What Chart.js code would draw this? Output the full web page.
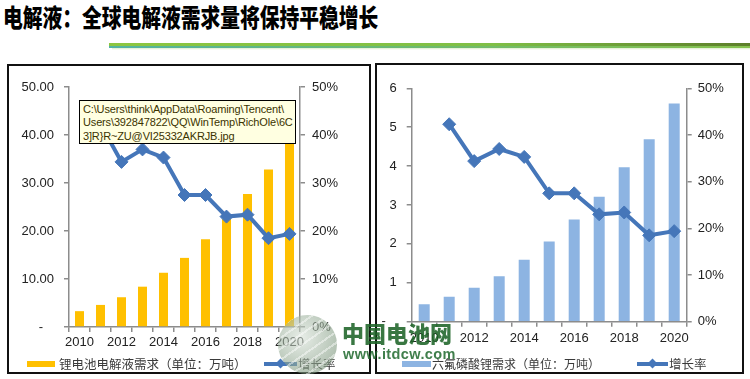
<!DOCTYPE html>
<html><head><meta charset="utf-8">
<script src="https://cdn.jsdelivr.net/npm/chart.js@4.4.1/dist/chart.umd.min.js"></script>
<style>
html,body{margin:0;padding:0;background:#fff;width:750px;height:379px;overflow:hidden;position:relative;font-family:"Liberation Sans",Arial,sans-serif;}
.abs{position:absolute;}
#title{left:3px;top:1px;font-family:"Noto Sans CJK SC";font-weight:900;font-size:25px;line-height:30px;transform:scaleX(0.79);transform-origin:0 0;white-space:nowrap;color:#000;}
#bar1{left:109px;top:43px;width:641px;height:2.5px;background:linear-gradient(to right,#8cc640,#7fbf45 60%,#5d7e2a);}
#bar2{left:109px;top:45.5px;width:641px;height:2.5px;background:linear-gradient(to right,#52b3a2,#6dba6e 50%,#86c24e);}
#bar3{left:112px;top:48px;width:638px;height:2px;background:linear-gradient(to bottom,rgba(200,225,170,0.6),rgba(255,255,255,0));}
.panel{border:2px solid #111;box-sizing:border-box;}
canvas{position:absolute;}
.leg{font-family:"Noto Sans CJK SC";font-size:12.5px;color:#3a3a3a;white-space:nowrap;line-height:14px;}
.sw{height:6px;}
.ln{height:4px;}
.dia{width:7px;height:7px;transform:rotate(45deg);}
#tip{left:79px;top:100px;width:217px;height:44px;box-sizing:border-box;background:#ffffe1;border:1px solid #000;font-family:"Liberation Sans";font-size:11px;line-height:13.3px;color:#3b3300;padding:2px 0 0 3px;white-space:nowrap;letter-spacing:-0.15px;}
#globe{left:278px;top:315px;width:59px;height:59px;border-radius:50%;
 background:repeating-linear-gradient(-35deg,rgba(255,255,255,0) 0 7px,rgba(255,255,255,0.45) 7px 9px),radial-gradient(circle at 40% 38%,rgba(215,225,215,0.6),rgba(130,155,130,0.6) 70%,rgba(100,125,100,0.65));}
#wm1{left:342px;top:317px;font-family:"Noto Sans CJK SC";font-weight:900;font-size:22px;line-height:30px;color:rgba(30,100,40,0.88);letter-spacing:0px;white-space:nowrap;}
#wm2{left:343px;top:345px;font-family:"Liberation Sans";font-weight:bold;font-size:14.5px;line-height:18px;color:rgba(30,105,45,0.85);letter-spacing:0.4px;white-space:nowrap;}
</style>
</head><body>
<div id="title" class="abs">电解液：全球电解液需求量将保持平稳增长</div>
<div id="bar1" class="abs"></div><div id="bar2" class="abs"></div><div id="bar3" class="abs"></div>

<div class="abs panel" style="left:7px;top:64px;width:364px;height:310px;"></div>
<div class="abs panel" style="left:375px;top:63px;width:369px;height:311px;"></div>

<canvas id="c1" width="359" height="306" style="left:9px;top:66px;"></canvas>
<canvas id="c2" width="365" height="307" style="left:377px;top:65px;"></canvas>

<div class="abs sw" style="left:27px;top:361px;width:28px;background:#FFC000;"></div>
<div class="abs leg" style="left:59px;top:357px;">锂电池电解液需求（单位：万吨）</div>
<div class="abs ln" style="left:264px;top:362px;width:33px;background:#4576b9;"></div>
<div class="abs dia" style="left:277px;top:360px;background:#4576b9;"></div>
<div class="abs leg" style="left:298px;top:357px;">增长率</div>

<div class="abs sw" style="left:402px;top:361px;width:29px;background:#8db4e2;"></div>
<div class="abs leg" style="left:432px;top:357px;font-size:12px;">六氟磷酸锂需求（单位：万吨）</div>
<div class="abs ln" style="left:637px;top:362px;width:31px;background:#4576b9;"></div>
<div class="abs dia" style="left:649px;top:360px;background:#4576b9;"></div>
<div class="abs leg" style="left:669px;top:357px;font-size:12.5px;">增长率</div>

<div id="tip" class="abs">C:\Users\think\AppData\Roaming\Tencent\<br>Users\392847822\QQ\WinTemp\RichOle\6C<br>3]R}R~ZU@VI25332AKRJB.jpg</div>

<div id="globe" class="abs"></div>
<div id="wm1" class="abs">中国电池网</div>
<div id="wm2" class="abs">www.itdcw.com</div>

<script>
const years = ['2010','2011','2012','2013','2014','2015','2016','2017','2018','2019','2020'];
const electrolyteDemand = [3.3, 4.6, 6.2, 8.4, 11.3, 14.4, 18.3, 22.5, 27.7, 32.8, 39.2];
const lipf6Demand = [0.45, 0.64, 0.87, 1.17, 1.59, 2.06, 2.63, 3.21, 3.97, 4.69, 5.61];
const growthRate = [null, 42.3, 34.4, 37.0, 35.3, 27.5, 27.5, 23.0, 23.4, 18.5, 19.4];
const leftTicksA = [0, 10, 20, 30, 40, 50];
const leftTicksB = [0, 1, 2, 3, 4, 5, 6];
const pctTicks = [0, 10, 20, 30, 40, 50];

const AX = '#8c8c8c';
const TXT = '#222';
const FONT = {family: '"Liberation Sans", Arial, sans-serif', size: 13};
const LINE = '#4576b9';

function makeChart(id, cfg) {
  const gridOpt = {display: true, drawOnChartArea: false, drawTicks: true, tickLength: 5, color: AX, lineWidth: 1.5};
  return new Chart(document.getElementById(id), {
    data: {
      labels: years,
      datasets: [
        {type: 'line', data: growthRate, yAxisID: 'y1', order: 0, borderColor: LINE, backgroundColor: LINE,
         borderWidth: 4, pointStyle: 'rectRot', pointRadius: 6.5, pointBorderWidth: 1, pointBackgroundColor: LINE,
         pointBorderColor: LINE, tension: 0, spanGaps: false},
        {type: 'bar', data: cfg.bars, yAxisID: 'y', order: 1, backgroundColor: cfg.barColor, borderWidth: 0,
         barPercentage: cfg.barPct, categoryPercentage: 1}
      ]
    },
    options: {
      responsive: false, animation: false, devicePixelRatio: 1,
      layout: {padding: {top: cfg.top, left: 0, right: 0, bottom: 0}},
      plugins: {legend: {display: false}, tooltip: {enabled: false}},
      scales: {
        x: {type: 'category', offset: true,
            grid: Object.assign({}, gridOpt, {offset: true}),
            border: {display: true, color: AX, width: 1.5},
            ticks: {autoSkip: false, maxRotation: 0, padding: cfg.xPad, color: TXT, font: FONT,
                    callback: (v, i) => (i % 2 === 0 ? years[i] : '')},
            afterFit: s => { s.height = cfg.xH; }},
        y: {position: 'left', min: 0, max: cfg.yMax,
            grid: gridOpt, border: {display: true, color: AX, width: 1.5},
            afterBuildTicks: s => { s.ticks = cfg.yTicks.map(v => ({value: v})); },
            ticks: {padding: 10, color: TXT, font: FONT, callback: cfg.yFmt},
            afterFit: s => { s.width = cfg.yW; }},
        y1: {position: 'right', min: 0, max: 50,
            grid: gridOpt, border: {display: true, color: AX, width: 1.5},
            afterBuildTicks: s => { s.ticks = pctTicks.map(v => ({value: v})); },
            ticks: {padding: cfg.rPad, color: TXT, font: FONT, callback: v => v + '%'},
            afterFit: s => { s.width = cfg.y1W; }}
      }
    }
  });
}

makeChart('c1', {bars: electrolyteDemand, barColor: '#FFC000', barPct: 0.43, top: 21, xH: 45, xPad: 3,
  yMax: 50, yTicks: leftTicksA, yFmt: v => (v === 0 ? '-   ' : Number(v).toFixed(2)), yW: 60, y1W: 68, rPad: 7});
makeChart('c2', {bars: lipf6Demand, barColor: '#8db4e2', barPct: 0.44, top: 23.3, xH: 50.3, xPad: 4,
  yMax: 6, yTicks: leftTicksB, yFmt: v => (v === 0 ? '-   ' : String(v)), yW: 34.7, y1W: 55.3, rPad: 6});
</script>
</body></html>
